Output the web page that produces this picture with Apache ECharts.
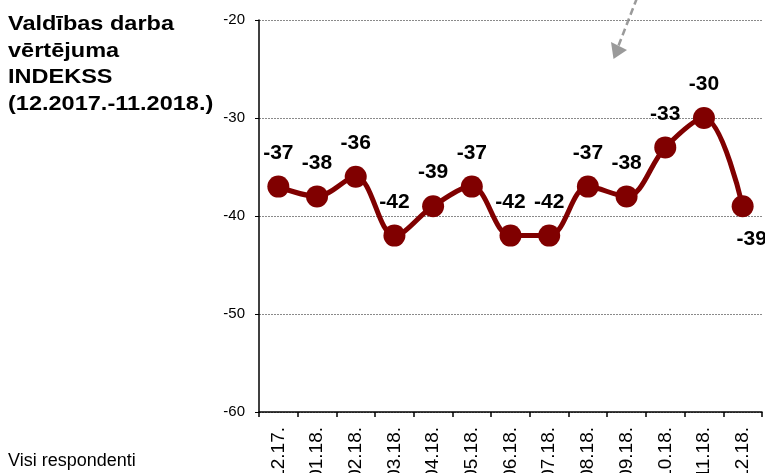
<!DOCTYPE html>
<html>
<head>
<meta charset="utf-8">
<script src="https://cdn.jsdelivr.net/npm/echarts@6/dist/echarts.min.js"></script>
<style>
  html, body { margin: 0; padding: 0; background: #fff; }
  #chart { width: 765px; height: 473px; }
</style>
</head>
<body>
<div id="chart"></div>
<script>
// Monthly government performance index, Dec 2017 – Dec 2018
const months = ['12.17.', '01.18.', '02.18.', '03.18.', '04.18.', '05.18.', '06.18.',
                '07.18.', '08.18.', '09.18.', '10.18.', '11.18.', '12.18.'];
const indexValues = [-37, -38, -36, -42, -39, -37, -42, -42, -37, -38, -33, -30, -39];
const yTicks = { min: -60, max: -20, step: 10 };

const titleLines = ['Valdības darba', 'vērtējuma', 'INDEKSS', '(12.2017.-11.2018.)'];
const footnote = 'Visi respondenti';

const FONT = '"Liberation Sans", Arial, sans-serif';
const RED = '#800000';

const seriesData = indexValues.map((v, i) => {
  const item = { value: v };
  if (i === indexValues.length - 1) {
    item.label = { position: 'bottom', distance: 12, offset: [9, 0] };
  }
  return item;
});

const chart = echarts.init(document.getElementById('chart'), null, { renderer: 'canvas' });
chart.setOption({
  animation: false,
  backgroundColor: '#fff',
  graphic: [
    {
      type: 'text',
      x: 8,
      y: 11,
      scaleX: 1.12,
      style: {
        text: titleLines.join('\n'),
        font: 'bold 21px ' + FONT,
        lineHeight: 26.5,
        fill: '#000',
        verticalAlign: 'top'
      }
    },
    {
      type: 'text',
      x: 8,
      y: 452,
      style: { text: footnote, font: '18px ' + FONT, fill: '#000', verticalAlign: 'top' }
    },
    {
      type: 'line',
      shape: { x1: 637, y1: -2, x2: 618, y2: 47 },
      style: { stroke: '#9a9a9a', lineWidth: 2.5, lineDash: [7, 4] }
    },
    {
      type: 'polygon',
      shape: { points: [[611, 42], [627, 50], [613.5, 59]] },
      style: { fill: '#9a9a9a' }
    }
  ],
  grid: {
    left: 259, right: 3, top: 20, bottom: 61,
    containLabel: false,
    outerBoundsMode: 'none'
  },
  xAxis: {
    type: 'category',
    data: months,
    boundaryGap: true,
    axisLine: { show: true, lineStyle: { color: '#000', width: 1.5 } },
    axisTick: { show: true, length: 5, lineStyle: { color: '#000', width: 1.5 } },
    axisLabel: {
      rotate: 90,
      margin: 15,
      fontFamily: FONT,
      fontSize: 19,
      color: '#000'
    },
    splitLine: { show: false }
  },
  yAxis: {
    type: 'value',
    min: yTicks.min,
    max: yTicks.max,
    interval: yTicks.step,
    axisLine: { show: true, lineStyle: { color: '#000', width: 1.5 } },
    axisTick: { show: true, length: 4, lineStyle: { color: '#000', width: 1 } },
    axisLabel: {
      margin: 14,
      fontFamily: FONT,
      fontSize: 15,
      color: '#000'
    },
    splitLine: { show: true, lineStyle: { color: '#8a8a8a', width: 1, type: [2, 1] } }
  },
  series: [{
    type: 'line',
    data: seriesData,
    smooth: 0.35,
    symbol: 'circle',
    symbolSize: 22,
    lineStyle: { color: RED, width: 5 },
    itemStyle: { color: RED },
    label: {
      show: true,
      position: 'top',
      distance: 12,
      fontFamily: FONT,
      fontSize: 21,
      fontWeight: 'bold',
      color: '#000'
    },
    z: 3
  }]
});
</script>
</body>
</html>
